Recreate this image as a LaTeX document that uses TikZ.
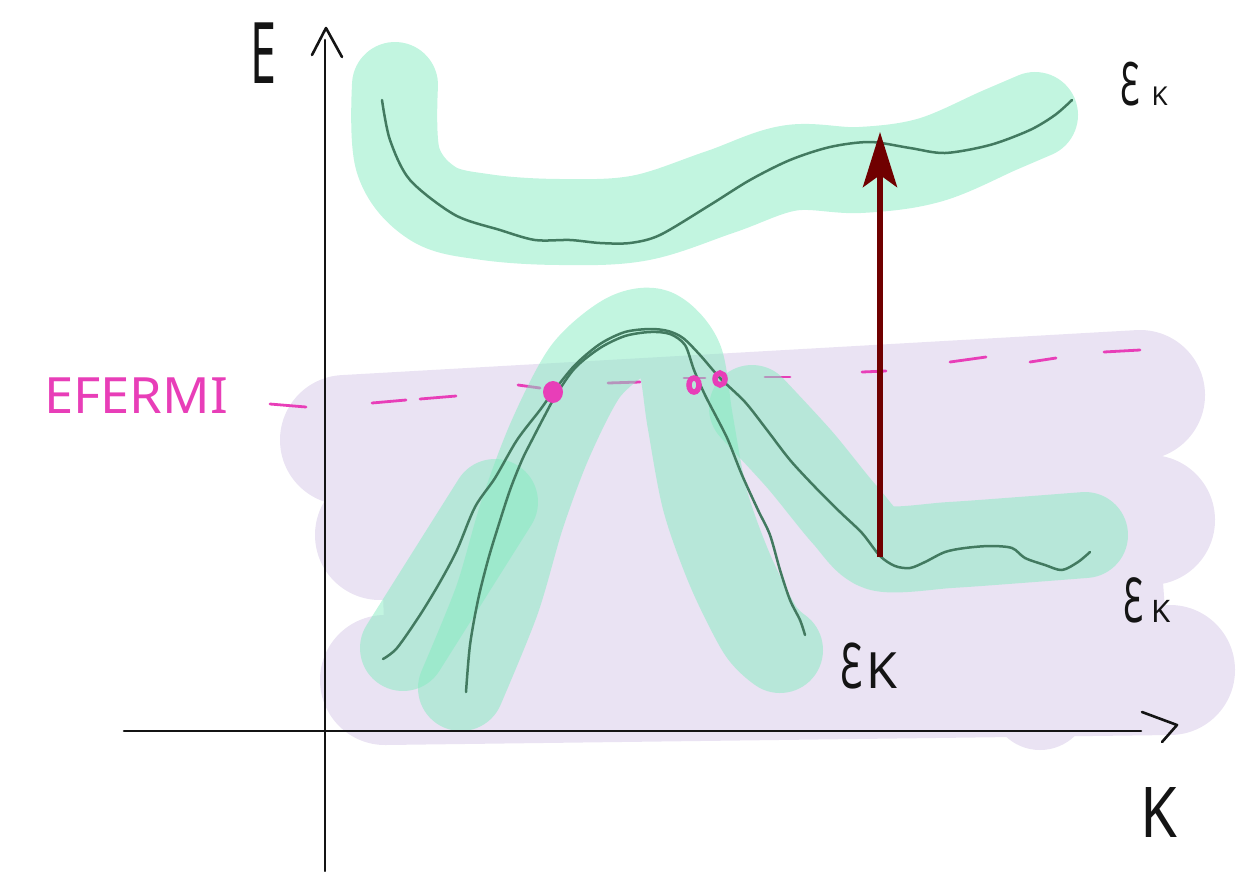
\documentclass[tikz,border=0pt]{standalone}
\usepackage{fontspec}
\newfontfamily\lbl{Noto Sans}
\usetikzlibrary{arrows.meta}
\definecolor{lav}{RGB}{234,227,243}
\definecolor{mint}{RGB}{133,235,193}
\definecolor{curvec}{RGB}{66,122,96}
\definecolor{fermi}{RGB}{232,62,184}
\definecolor{darrow}{RGB}{112,0,0}
\definecolor{ink}{RGB}{20,20,20}
\begin{document}
\begin{tikzpicture}[x=1pt,y=-1pt,
  band/.style={draw=mint, draw opacity=0.5, line width=86pt, line cap=round, line join=round},
  lavband/.style={draw=lav, line width=130pt, line cap=round},
  bandline/.style={draw=curvec, line width=2.5pt, line cap=round, line join=round},
  axisline/.style={draw=ink, line width=2.6pt, line cap=round, line join=round},
  fdash/.style={draw=fermi, line width=2.8pt, line cap=round},
  lab/.style={text=ink, inner sep=0pt, anchor=base west}]
\useasboundingbox (0,0) rectangle (1241,871);

% lavender region
\draw[lavband] (345,440) -- (1140,395);
\draw[lavband] (380,535) -- (1150,520);
\draw[lavband] (385,680) -- (1170,670);
\fill[lav] (380,440) -- (1150,400) -- (1170,680) -- (385,680) -- cycle;
\fill[lav] (1040,700) circle (50);

% Fermi level dashes
\foreach \a/\b/\c/\d in {270/404/306/407, 372/403/406/400, 420/399/456/396, 518/385/540/388, 608/383/640/382, 684/378/705/378, 765/377/790/377, 862/372/886/371, 950/362/986/357, 1030/362/1056/358, 1104/352/1140/350}
  \draw[fdash] (\a,\b) -- (\c,\d);

% green highlight bands
\draw[band] plot[smooth, tension=0.6] coordinates {(395,85) (398,160) (432,203) (485,217) (560,222) (640,218) (720,192) (790,168) (860,170) (930,160) (1000,130) (1035,115)};
\draw[band] (403,648) -- (495,502);
\draw[band] plot[smooth] coordinates {(461,688) (497,600) (522,515) (550,440) (585,372) (625,337) (655,332) (680,360) (690,420) (705,500) (730,570) (760,630) (780,650)};
\draw[band] plot[smooth] coordinates {(752,408) (800,460) (845,515) (880,548) (950,545) (1020,540) (1085,535)};

% band curves
\draw[bandline] plot[smooth] coordinates {(382,100) (390,140) (410,180) (455,215) (500,230) (535,240) (570,240) (600,243) (630,243) (660,235) (710,205) (750,180) (790,160) (830,147) (870,142) (910,148) (945,153) (990,145) (1030,130) (1055,115) (1072,100)};
\draw[bandline] plot[smooth] coordinates {(383,659) (397,648) (420,615) (440,582) (457,550) (475,507) (495,478) (517,440) (540,410) (553,392) (575,365) (600,344) (625,332) (650,329) (668,331) (683,338) (700,355) (720,378) (745,402) (767,430) (790,460) (815,487) (840,512) (862,533) (880,556) (895,566) (910,568) (925,562) (945,552) (965,548) (990,546) (1012,548) (1025,558) (1045,565) (1062,570) (1078,562) (1090,552)};
\draw[bandline] plot[smooth] coordinates {(466,692) (470,645) (478,600) (488,560) (498,527) (510,490) (522,460) (532,440) (545,415) (556,395) (575,368) (600,348) (625,336) (650,332) (670,334) (685,345) (694,370) (705,395) (718,420) (728,440) (742,475) (758,510) (770,535) (780,570) (790,600) (800,620) (805,635)};

% Fermi crossings
\fill[fermi] (553,392) ellipse (10 and 11);
\draw[fermi, line width=5.5pt] (694,385) ellipse (5 and 7);
\draw[fermi, line width=5.5pt] (720,379) ellipse (5 and 6);

% excitation arrow
\coordinate (ab) at (880,557);
\coordinate (at) at (880,132);
\draw[darrow, line width=6pt, -{Stealth[length=55pt, width=34pt, inset=12pt]}] (ab) -- (at);

% axes
\coordinate (yb) at (325,871);
\coordinate (yt) at (325,40);
\coordinate (xl) at (124,731);
\coordinate (xr) at (1141,731);
\draw[axisline] (yb) -- (yt);
\draw[axisline] (312,55) -- (326,28) -- (342,57);
\draw[axisline] (xl) -- (xr);
\draw[axisline] (1142,712) -- (1177,725) -- (1162,742);

% labels
\node[lab] (Elab) at (250,83) {\lbl\fontsize{85}{85}\selectfont\scalebox{0.55}[1]{E}};
\node[lab] (Klab) at (1140,837) {\lbl\fontsize{70}{70}\selectfont\scalebox{0.85}[1]{K}};
\node[lab, text=fermi] (fermilab) at (44,413) {\lbl\fontsize{50}{50}\selectfont\scalebox{1.05}[1]{EFERMI}};
\node[lab] (ek1) at (1120,105) {\lbl\fontsize{60}{60}\selectfont\scalebox{0.55}[1]{Ɛ}\hspace{12pt}\fontsize{26}{26}\selectfont K};
\node[lab] (ek2) at (1123,622) {\lbl\fontsize{62}{62}\selectfont\scalebox{0.55}[1]{Ɛ}\hspace{8pt}\fontsize{31}{31}\selectfont K};
\node[lab] (ek3) at (840,688) {\lbl\fontsize{63}{63}\selectfont\scalebox{0.6}[1]{Ɛ}\hspace{4pt}\fontsize{50}{50}\selectfont K};
\end{tikzpicture}
\end{document}
